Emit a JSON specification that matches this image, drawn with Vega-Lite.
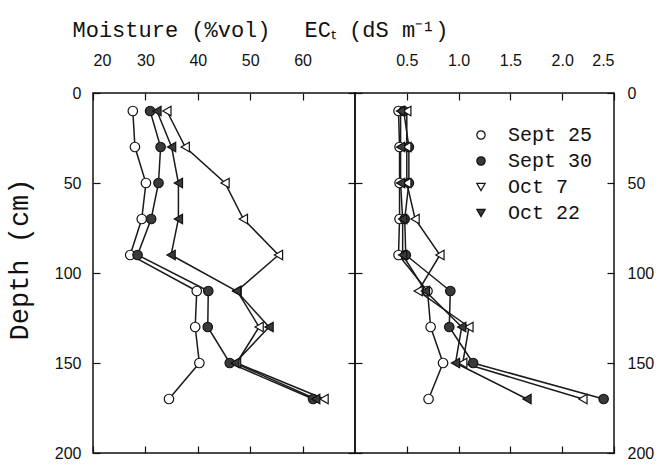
{
  "$schema": "https://vega.github.io/schema/vega-lite/v6.json",
  "background": "white",
  "padding": {"left": 4, "top": 17, "right": 5, "bottom": 5},
  "spacing": 0,
  "bounds": "flush",
  "config": {
    "view": {"stroke": "#111", "strokeWidth": 1.5},
    "axis": {"grid": false, "domain": false, "tickColor": "#111", "tickSize": -7, "tickWidth": 1.2,
             "labelFont": "Liberation Sans", "labelFontSize": 16, "labelColor": "#111",
             "titleFont": "Liberation Mono", "titleFontWeight": "normal", "titleColor": "#111"},
    "legend": {"labelFont": "Liberation Mono", "labelFontSize": 20, "labelColor": "#111"}
  },
  "data": {"values": [
    {"date": "Sept 25", "depth": 10, "moisture": 27.6, "ec": 0.42},
    {"date": "Sept 25", "depth": 30, "moisture": 28.0, "ec": 0.43},
    {"date": "Sept 25", "depth": 50, "moisture": 30.1, "ec": 0.43},
    {"date": "Sept 25", "depth": 70, "moisture": 29.3, "ec": 0.43},
    {"date": "Sept 25", "depth": 90, "moisture": 27.1, "ec": 0.42},
    {"date": "Sept 25", "depth": 110, "moisture": 39.8, "ec": 0.70},
    {"date": "Sept 25", "depth": 130, "moisture": 39.5, "ec": 0.73},
    {"date": "Sept 25", "depth": 150, "moisture": 40.3, "ec": 0.85},
    {"date": "Sept 25", "depth": 170, "moisture": 34.5, "ec": 0.71},
    {"date": "Sept 30", "depth": 10, "moisture": 30.9, "ec": 0.47},
    {"date": "Sept 30", "depth": 30, "moisture": 32.9, "ec": 0.52},
    {"date": "Sept 30", "depth": 50, "moisture": 32.5, "ec": 0.52},
    {"date": "Sept 30", "depth": 70, "moisture": 31.1, "ec": 0.48},
    {"date": "Sept 30", "depth": 90, "moisture": 28.5, "ec": 0.49},
    {"date": "Sept 30", "depth": 110, "moisture": 42.0, "ec": 0.92},
    {"date": "Sept 30", "depth": 130, "moisture": 41.9, "ec": 0.91},
    {"date": "Sept 30", "depth": 150, "moisture": 46.1, "ec": 1.14},
    {"date": "Sept 30", "depth": 170, "moisture": 62.0, "ec": 2.40},
    {"date": "Oct 7", "depth": 10, "moisture": 34.1, "ec": 0.50},
    {"date": "Oct 7", "depth": 30, "moisture": 37.6, "ec": 0.50},
    {"date": "Oct 7", "depth": 50, "moisture": 45.2, "ec": 0.50},
    {"date": "Oct 7", "depth": 70, "moisture": 48.7, "ec": 0.58},
    {"date": "Oct 7", "depth": 90, "moisture": 55.4, "ec": 0.82},
    {"date": "Oct 7", "depth": 110, "moisture": 47.5, "ec": 0.61},
    {"date": "Oct 7", "depth": 130, "moisture": 51.7, "ec": 1.10},
    {"date": "Oct 7", "depth": 150, "moisture": 47.4, "ec": 1.04},
    {"date": "Oct 7", "depth": 170, "moisture": 64.1, "ec": 2.20},
    {"date": "Oct 22", "depth": 10, "moisture": 32.2, "ec": 0.44},
    {"date": "Oct 22", "depth": 30, "moisture": 35.0, "ec": 0.44},
    {"date": "Oct 22", "depth": 50, "moisture": 36.3, "ec": 0.44},
    {"date": "Oct 22", "depth": 70, "moisture": 36.3, "ec": 0.46},
    {"date": "Oct 22", "depth": 90, "moisture": 34.9, "ec": 0.46},
    {"date": "Oct 22", "depth": 110, "moisture": 47.4, "ec": 0.68},
    {"date": "Oct 22", "depth": 130, "moisture": 53.6, "ec": 1.03},
    {"date": "Oct 22", "depth": 150, "moisture": 47.1, "ec": 0.97},
    {"date": "Oct 22", "depth": 170, "moisture": 62.5, "ec": 1.66}
  ]},
  "resolve": {
    "scale": {"shape": "independent", "fill": "independent"},
    "legend": {"shape": "independent", "fill": "independent"}
  },
  "hconcat": [
    {
      "width": 262,
      "height": 360,
      "layer": [
        {
          "mark": {"type": "line", "stroke": "#1a1a1a", "strokeWidth": 1.5},
          "encoding": {
            "x": {"field": "moisture", "type": "quantitative",
                  "scale": {"domain": [20, 70], "nice": false, "zero": false},
                  "axis": {"orient": "top", "values": [20, 30, 40, 50, 60], "labelPadding": 32,
                           "title": "Moisture (%vol)", "titleFontSize": 22, "titleX": 78, "titleY": -57,
                           "titleBaseline": "alphabetic", "titleAnchor": "middle", "titleAlign": "center"}},
            "y": {"field": "depth", "type": "quantitative",
                  "scale": {"domain": [0, 200], "reverse": true, "nice": false},
                  "axis": {"orient": "left", "values": [0, 50, 100, 150, 200], "labelPadding": 19,
                           "title": "Depth (cm)", "titleFontSize": 27, "titleX": -60, "titleY": 166,
                           "titleAngle": -90, "titleBaseline": "bottom", "titleAlign": "center"}},
            "detail": {"field": "date"},
            "order": {"field": "depth"}
          }
        },
        {
          "mark": {"type": "point", "filled": true, "stroke": "#111", "strokeWidth": 1.2, "size": 90, "opacity": 1, "angle": 90},
          "encoding": {
            "x": {"field": "moisture", "type": "quantitative",
                  "axis": {"orient": "bottom", "values": [20, 30, 40, 50, 60], "labels": false, "title": null}},
            "y": {"field": "depth", "type": "quantitative",
                  "axis": {"orient": "right", "values": [0, 50, 100, 150, 200], "labels": false, "title": null}},
            "shape": {"field": "date", "type": "nominal",
                      "scale": {"domain": ["Sept 25", "Sept 30", "Oct 7", "Oct 22"], "range": ["circle", "circle", "triangle-down", "triangle-down"]},
                      "legend": null},
            "fill": {"field": "date", "type": "nominal",
                     "scale": {"domain": ["Sept 25", "Sept 30", "Oct 7", "Oct 22"], "range": ["white", "#3a3a3a", "white", "#3a3a3a"]},
                     "legend": null}
          }
        }
      ]
    },
    {
      "width": 259,
      "height": 360,
      "layer": [
        {
          "mark": {"type": "line", "stroke": "#1a1a1a", "strokeWidth": 1.5},
          "encoding": {
            "x": {"field": "ec", "type": "quantitative",
                  "scale": {"domain": [0, 2.5], "nice": false, "zero": false},
                  "axis": {"orient": "top", "values": [0.5, 1.0, 1.5, 2.0, 2.5], "format": ".1f", "labelPadding": 32,
                           "title": "ECₜ (dS m⁻¹)", "titleFontSize": 22, "titleX": 21, "titleY": -57,
                           "titleBaseline": "alphabetic", "titleAnchor": "middle", "titleAlign": "center"}},
            "y": {"field": "depth", "type": "quantitative",
                  "scale": {"domain": [0, 200], "reverse": true, "nice": false},
                  "axis": {"orient": "left", "values": [0, 50, 100, 150, 200], "labels": false, "title": null}},
            "detail": {"field": "date"},
            "order": {"field": "depth"}
          }
        },
        {
          "mark": {"type": "point", "filled": true, "stroke": "#111", "strokeWidth": 1.2, "size": 90, "opacity": 1, "angle": 90},
          "encoding": {
            "x": {"field": "ec", "type": "quantitative",
                  "axis": {"orient": "bottom", "values": [0.5, 1.0, 1.5, 2.0, 2.5], "labels": false, "title": null}},
            "y": {"field": "depth", "type": "quantitative",
                  "axis": {"orient": "right", "values": [0, 50, 100, 150, 200], "labelPadding": 20, "title": null}},
            "shape": {"field": "date", "type": "nominal",
                      "scale": {"domain": ["Sept 25", "Sept 30", "Oct 7", "Oct 22"], "range": ["circle", "circle", "triangle-down", "triangle-down"]},
                      "legend": {"orient": "none", "legendX": 116, "legendY": 32, "title": null, "symbolSize": 70,
                                 "labelOffset": 17, "rowPadding": 6, "symbolStrokeWidth": 1.2}},
            "fill": {"field": "date", "type": "nominal",
                     "scale": {"domain": ["Sept 25", "Sept 30", "Oct 7", "Oct 22"], "range": ["white", "#3a3a3a", "white", "#3a3a3a"]},
                     "legend": {"orient": "none", "legendX": 116, "legendY": 32, "title": null, "symbolSize": 70,
                                "labelOffset": 17, "rowPadding": 6, "symbolStrokeWidth": 1.2}}
          }
        }
      ]
    }
  ]
}
